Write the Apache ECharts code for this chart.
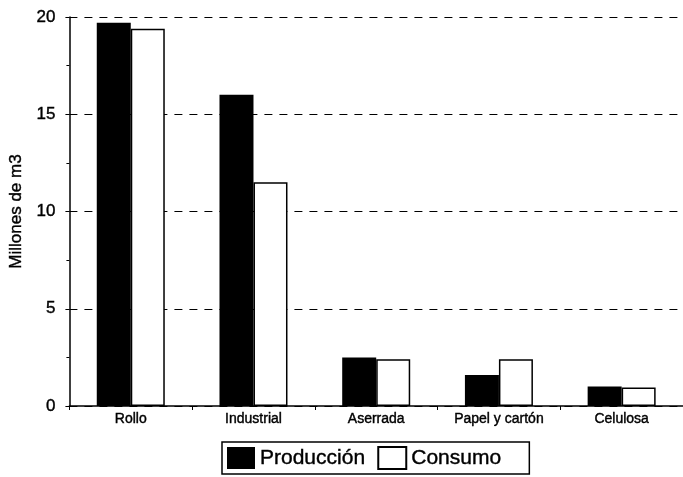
<!DOCTYPE html>
<html>
<head>
<meta charset="utf-8">
<script src="https://cdn.jsdelivr.net/npm/echarts@6/dist/echarts.min.js"></script>
<style>
  html, body { margin: 0; padding: 0; background: #fff; }
  #chart { width: 683px; height: 477px; }
</style>
</head>
<body>
<div id="chart"></div>
<script>
// Producción y consumo de productos forestales (millones de m3)
const categories = ['Rollo', 'Industrial', 'Aserrada', 'Papel y cartón', 'Celulosa'];
const produccion = [19.7, 16.0, 2.5, 1.6, 1.0];
const consumo = [19.4, 11.5, 2.4, 2.4, 0.95];
const yTicks = { min: 0, max: 20, step: 5 };

const FONT = '"Liberation Sans", Arial, sans-serif';
// a thin outline gives the text a slightly heavier stroke
const heavy = { textBorderColor: '#000', textBorderWidth: 0.4 };

const chart = echarts.init(document.getElementById('chart'), null, { renderer: 'canvas' });

chart.setOption({
  backgroundColor: '#ffffff',
  animation: false,
  grid: { left: 68, right: -6, top: 17, bottom: 71, containLabel: false },
  legend: {
    data: ['Producción', 'Consumo'],
    left: 222,
    top: 442,
    orient: 'horizontal',
    itemWidth: 28,
    itemHeight: 22,
    itemGap: 12,
    padding: [4, 28, 4, 5],
    borderColor: '#000',
    borderWidth: 1.5,
    borderRadius: 0,
    icon: 'rect',
    textStyle: Object.assign({ fontFamily: FONT, fontSize: 21, color: '#000' }, heavy)
  },
  xAxis: {
    type: 'category',
    data: categories,
    axisLine: { show: true, lineStyle: { color: '#000', width: 1.5 } },
    axisTick: { show: true, alignWithLabel: false, length: 4, lineStyle: { color: '#000' } },
    axisLabel: Object.assign({ fontFamily: FONT, fontSize: 14, color: '#000', margin: 6 }, heavy),
    splitLine: { show: false }
  },
  yAxis: {
    type: 'value',
    min: yTicks.min,
    max: yTicks.max,
    interval: yTicks.step,
    name: 'Millones de m3',
    nameLocation: 'middle',
    nameGap: 40,
    nameTextStyle: Object.assign({ fontFamily: FONT, fontSize: 17, color: '#000' }, heavy),
    axisLine: { show: true, lineStyle: { color: '#000', width: 1.5 } },
    axisTick: { show: true, length: 4, lineStyle: { color: '#000' } },
    minorTick: { show: true, splitNumber: 2, length: 3, lineStyle: { color: '#000' } },
    axisLabel: Object.assign({ fontFamily: FONT, fontSize: 17, color: '#000', margin: 14 }, heavy),
    splitLine: { show: true, lineStyle: { color: '#000', width: 1, type: [8, 7] } }
  },
  series: [
    {
      name: 'Producción',
      type: 'bar',
      data: produccion,
      barWidth: 34,
      barGap: '0%',
      itemStyle: { color: '#000', borderColor: '#000', borderWidth: 0 }
    },
    {
      name: 'Consumo',
      type: 'bar',
      data: consumo,
      barWidth: 34,
      barGap: '0%',
      itemStyle: { color: '#fff', borderColor: '#000', borderWidth: 1.5 }
    }
  ]
});
</script>
</body>
</html>
